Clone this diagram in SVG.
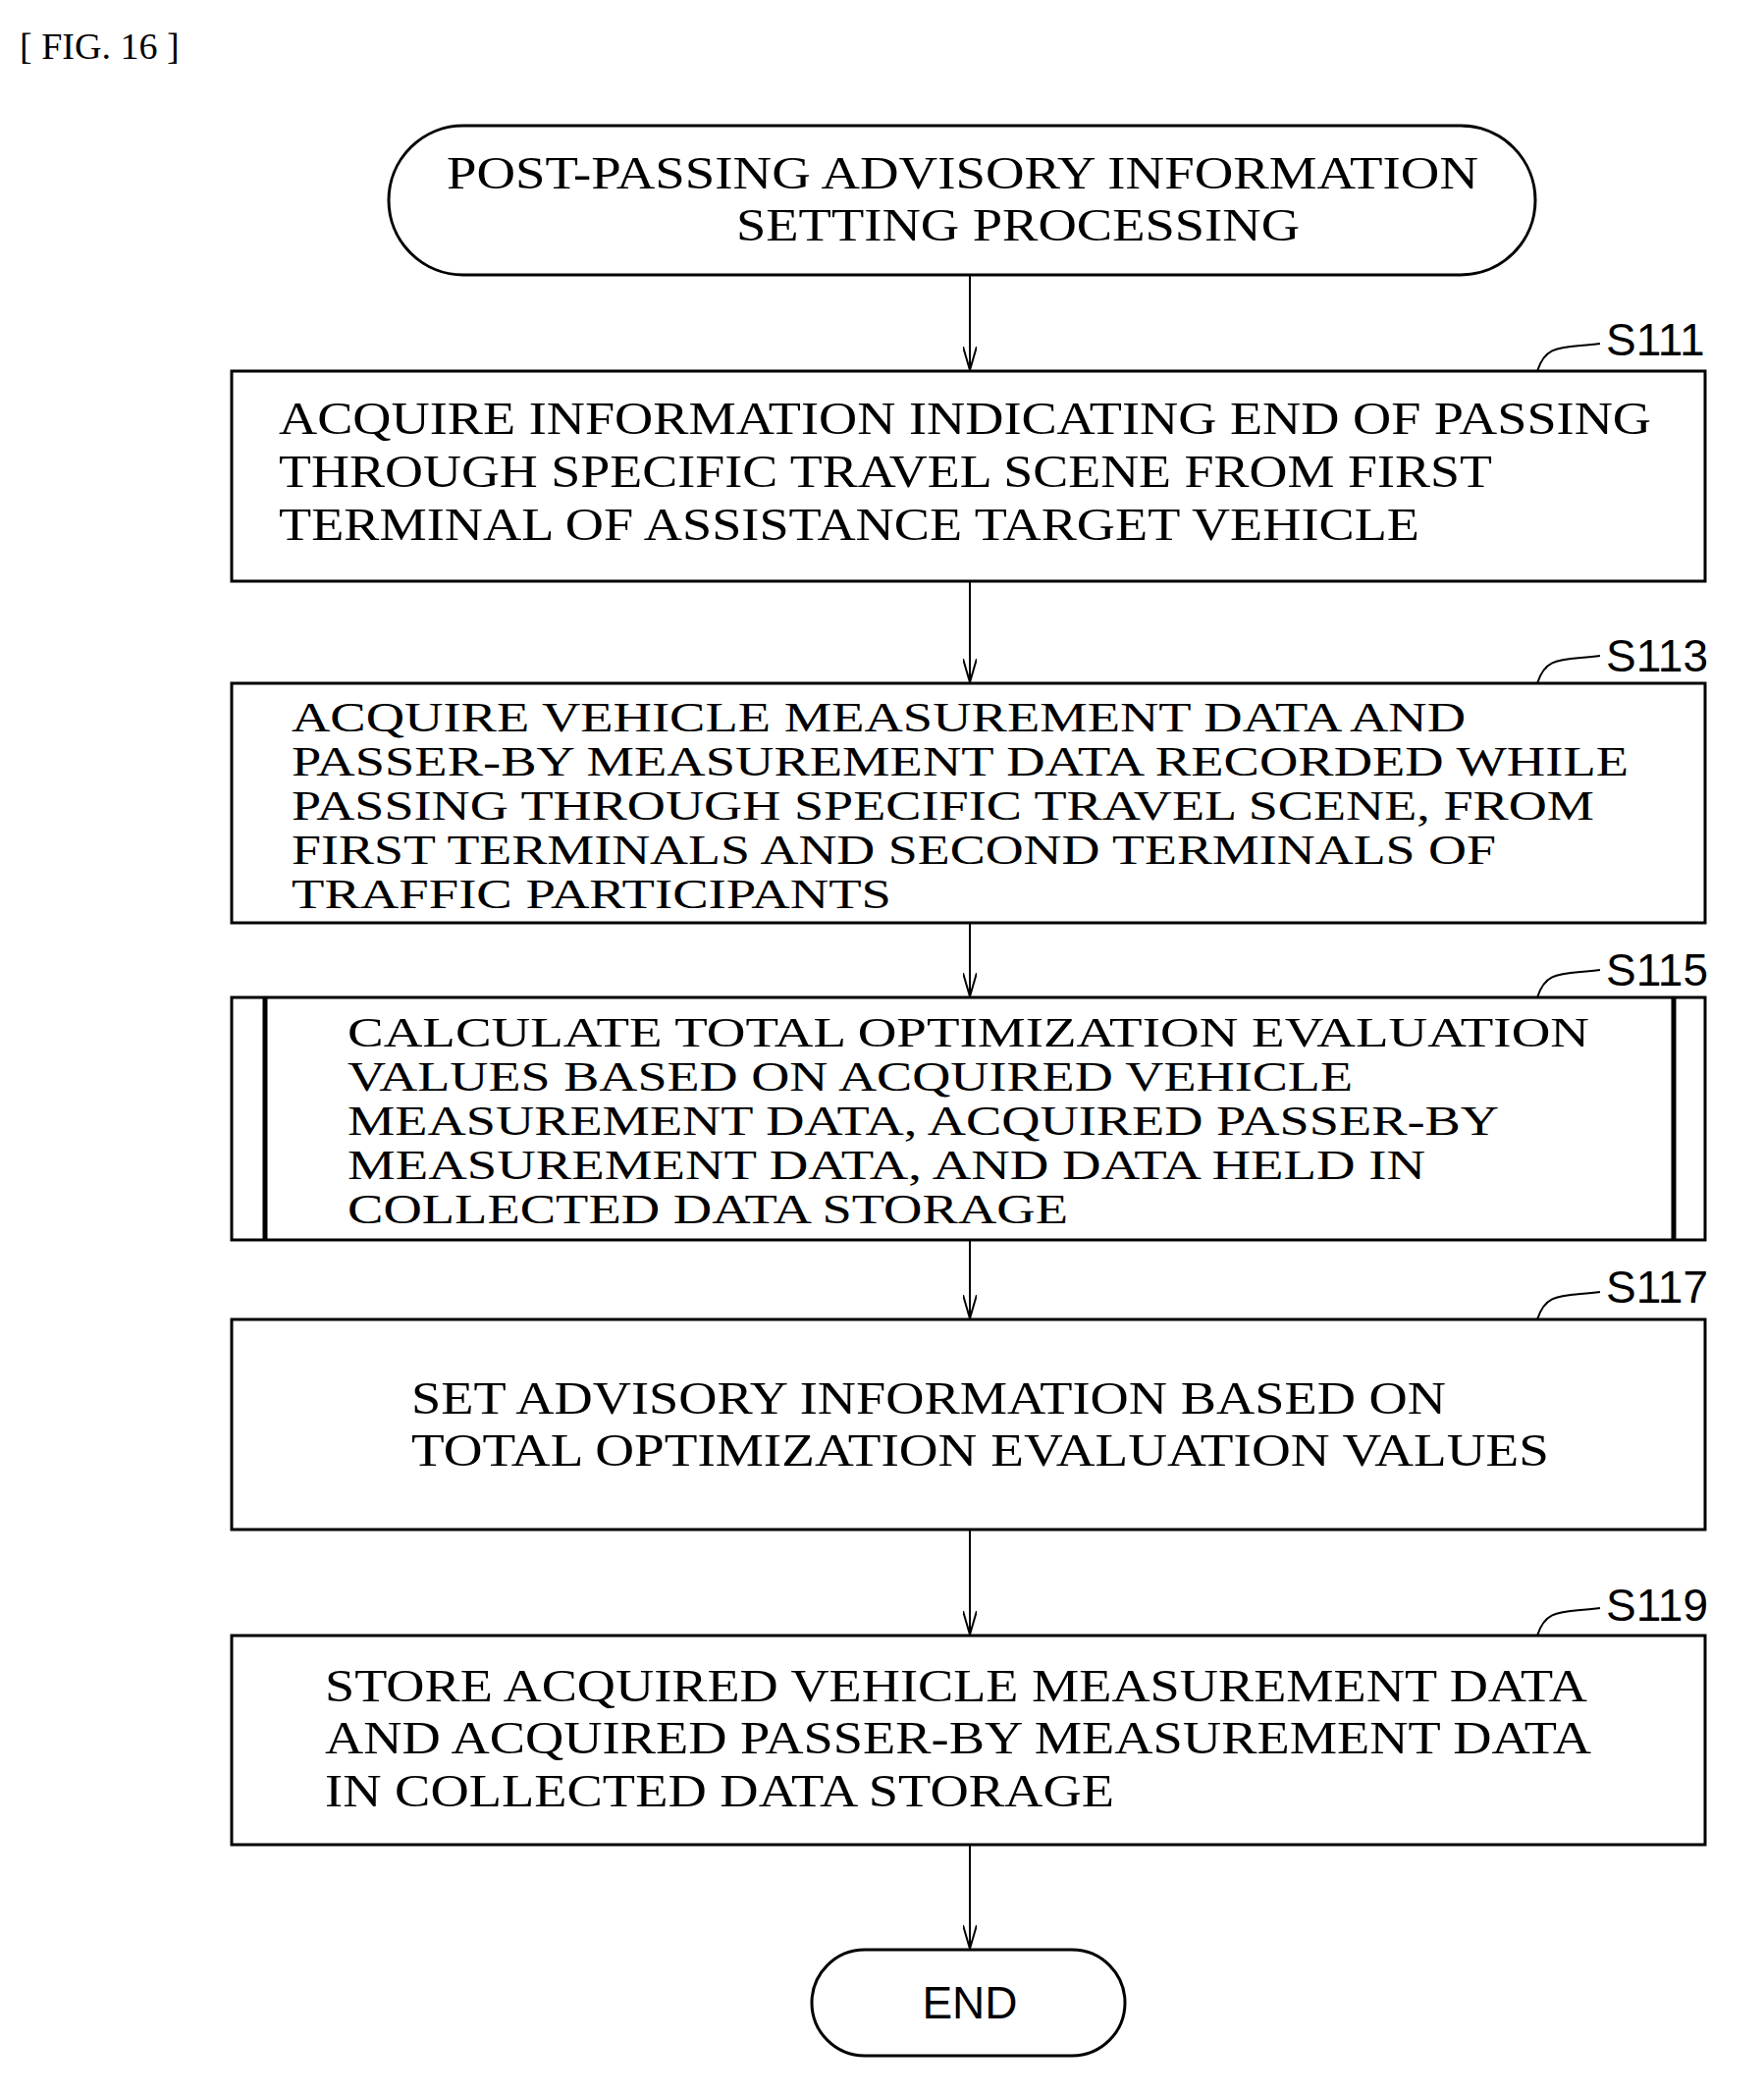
<svg xmlns="http://www.w3.org/2000/svg" width="1797" height="2134" viewBox="0 0 1797 2134">
<defs>
<marker id="ah" viewBox="0 0 24 14" refX="24" refY="7" markerWidth="24" markerHeight="14" markerUnits="userSpaceOnUse" orient="auto"><path d="M0,0 L24,7 L0,14" fill="none" stroke="#000" stroke-width="2"/></marker>
</defs>
<style>
.b{fill:#fff;stroke:#000;stroke-width:3}
.t{font-family:"Liberation Serif",serif;font-size:46px;fill:#000}
.s{font-size:42px}
.l{font-family:"Liberation Sans",sans-serif;font-size:46px;fill:#000}
.c{fill:none;stroke:#000;stroke-width:2}
</style>
<rect width="1797" height="2134" fill="#fff"/>
<text x="20" y="60" class="t" style="font-size:38px">[ FIG. 16 ]</text>
<g id="start"><rect class="b" x="396" y="128" width="1168" height="152" rx="76"/>
<text class="t" x="455" y="192" textLength="1051" lengthAdjust="spacingAndGlyphs">POST-PASSING ADVISORY INFORMATION</text>
<text class="t" x="750" y="245" textLength="574" lengthAdjust="spacingAndGlyphs">SETTING  PROCESSING</text></g>
<g id="s111"><rect class="b" x="236" y="378" width="1501" height="214"/>
<text class="t" x="284" y="442" textLength="1398" lengthAdjust="spacingAndGlyphs">ACQUIRE INFORMATION INDICATING END OF PASSING</text>
<text class="t" x="284" y="496" textLength="1236" lengthAdjust="spacingAndGlyphs">THROUGH SPECIFIC TRAVEL SCENE FROM FIRST</text>
<text class="t" x="284" y="550" textLength="1162" lengthAdjust="spacingAndGlyphs">TERMINAL OF ASSISTANCE TARGET VEHICLE</text>
<path class="c" d="M1566,378 C1575,350 1590,355 1630,350"/><text class="l" x="1636" y="362">S111</text></g>
<g id="s113"><rect class="b" x="236" y="696" width="1501" height="244"/>
<text class="t s" x="297" y="745" textLength="1196" lengthAdjust="spacingAndGlyphs">ACQUIRE VEHICLE MEASUREMENT DATA AND</text>
<text class="t s" x="297" y="790" textLength="1362" lengthAdjust="spacingAndGlyphs">PASSER-BY MEASUREMENT DATA RECORDED WHILE</text>
<text class="t s" x="297" y="835" textLength="1327" lengthAdjust="spacingAndGlyphs">PASSING THROUGH SPECIFIC TRAVEL SCENE, FROM</text>
<text class="t s" x="297" y="880" textLength="1227" lengthAdjust="spacingAndGlyphs">FIRST TERMINALS AND SECOND TERMINALS OF</text>
<text class="t s" x="297" y="925" textLength="611" lengthAdjust="spacingAndGlyphs">TRAFFIC PARTICIPANTS</text>
<path class="c" d="M1566,696 C1575,668 1590,673 1630,668"/><text class="l" x="1636" y="684">S113</text></g>
<g id="s115"><rect class="b" x="236" y="1016" width="1501" height="247"/>
<line class="b" x1="270" y1="1016" x2="270" y2="1263" style="stroke-width:5"/><line class="b" x1="1705" y1="1016" x2="1705" y2="1263" style="stroke-width:5"/>
<text class="t s" x="354" y="1066" textLength="1265" lengthAdjust="spacingAndGlyphs">CALCULATE TOTAL OPTIMIZATION EVALUATION</text>
<text class="t s" x="354" y="1111" textLength="1024" lengthAdjust="spacingAndGlyphs">VALUES BASED ON ACQUIRED VEHICLE</text>
<text class="t s" x="354" y="1156" textLength="1173" lengthAdjust="spacingAndGlyphs">MEASUREMENT DATA, ACQUIRED PASSER-BY</text>
<text class="t s" x="354" y="1201" textLength="1098" lengthAdjust="spacingAndGlyphs">MEASUREMENT DATA, AND DATA HELD IN</text>
<text class="t s" x="354" y="1246" textLength="734" lengthAdjust="spacingAndGlyphs">COLLECTED DATA STORAGE</text>
<path class="c" d="M1566,1016 C1575,988 1590,993 1630,988"/><text class="l" x="1636" y="1004">S115</text></g>
<g id="s117"><rect class="b" x="236" y="1344" width="1501" height="214"/>
<text class="t" x="419" y="1440" textLength="1054" lengthAdjust="spacingAndGlyphs">SET ADVISORY INFORMATION BASED ON</text>
<text class="t" x="419" y="1493" textLength="1159" lengthAdjust="spacingAndGlyphs">TOTAL OPTIMIZATION EVALUATION VALUES</text>
<path class="c" d="M1566,1344 C1575,1316 1590,1321 1630,1316"/><text class="l" x="1636" y="1327">S117</text></g>
<g id="s119"><rect class="b" x="236" y="1666" width="1501" height="213"/>
<text class="t" x="331" y="1733" textLength="1286" lengthAdjust="spacingAndGlyphs">STORE ACQUIRED VEHICLE MEASUREMENT DATA</text>
<text class="t" x="331" y="1786" textLength="1290" lengthAdjust="spacingAndGlyphs">AND ACQUIRED PASSER-BY MEASUREMENT DATA</text>
<text class="t" x="331" y="1840" textLength="804" lengthAdjust="spacingAndGlyphs">IN COLLECTED DATA STORAGE</text>
<path class="c" d="M1566,1666 C1575,1638 1590,1643 1630,1638"/><text class="l" x="1636" y="1651">S119</text></g>
<g id="end"><rect class="b" x="827" y="1986" width="319" height="108" rx="54"/>
<text class="l" x="988" y="2056" text-anchor="middle">END</text></g>
<g id="connectors">
<line class="c" x1="988" y1="280" x2="988" y2="377" marker-end="url(#ah)"/>
<line class="c" x1="988" y1="592" x2="988" y2="695" marker-end="url(#ah)"/>
<line class="c" x1="988" y1="940" x2="988" y2="1015" marker-end="url(#ah)"/>
<line class="c" x1="988" y1="1263" x2="988" y2="1343" marker-end="url(#ah)"/>
<line class="c" x1="988" y1="1558" x2="988" y2="1665" marker-end="url(#ah)"/>
<line class="c" x1="988" y1="1879" x2="988" y2="1985" marker-end="url(#ah)"/>
</g>
</svg>
